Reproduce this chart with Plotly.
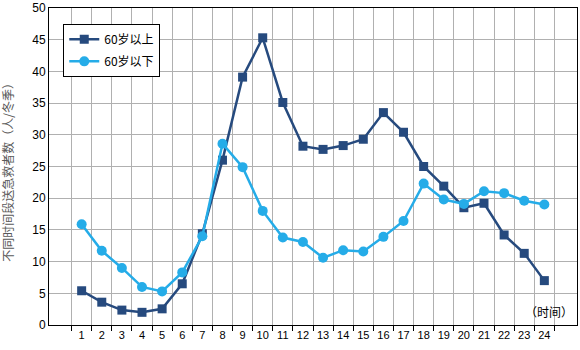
import plotly.graph_objects as go

hours = [str(i) for i in range(1, 25)]
over60 = [5.4, 3.6, 2.35, 2.0, 2.55, 6.5, 14.4, 26.0, 39.1, 45.3, 35.1, 28.2, 27.7, 28.3, 29.3,
          33.5, 30.4, 25.0, 21.9, 18.5, 19.2, 14.2, 11.3, 7.0]
under60 = [15.9, 11.7, 9.0, 6.0, 5.3, 8.3, 14.0, 28.6, 24.9, 18.0, 13.8, 13.1, 10.6, 11.8, 11.6,
           13.9, 16.4, 22.3, 19.8, 19.1, 21.1, 20.8, 19.6, 19.0]
yticks = list(range(0, 51, 5))

dark = "#264a7e"
light = "#25ace8"
cjk = "Noto Sans CJK SC"

fig = go.Figure()
fig.add_trace(go.Scatter(x=hours, y=over60, name="60岁以上", mode="lines+markers",
                         legendgroup="a",
                         line=dict(color=dark, width=2.5),
                         marker=dict(symbol="square", size=9, color=dark)))
fig.add_trace(go.Scatter(x=hours, y=under60, name="60岁以下", mode="lines+markers",
                         legendgroup="b",
                         line=dict(color=light, width=2.5),
                         marker=dict(symbol="circle", size=10, color=light)))

fig.update_layout(
    width=580, height=350,
    margin=dict(l=48.5, r=1.5, t=5, b=25),
    paper_bgcolor="white", plot_bgcolor="white",
    font=dict(family=cjk, size=12, color="#000000"),
    showlegend=True,
    legend=dict(x=0.027, y=0.95, xanchor="left", yanchor="top",
                bgcolor="white", bordercolor="black", borderwidth=1,
                font=dict(family=cjk, size=12, color="#000"),
                traceorder="grouped", tracegroupgap=3,
                itemwidth=30),
    xaxis=dict(type="category", tickson="boundaries", showgrid=True, gridcolor="#b0b0b0",
               gridwidth=1, showline=True, linecolor="black", linewidth=1, mirror=True,
               ticks="outside", ticklen=5, tickcolor="black", tickangle=0,
               tickfont=dict(family="Liberation Sans", size=11, color="#000")),
    yaxis=dict(range=[0, 50], tickvals=yticks, showgrid=True, gridcolor="#b0b0b0", gridwidth=1,
               showline=True, linecolor="black", linewidth=1, mirror=True, ticks="",
               zeroline=False, ticklabeloverflow="allow",
               tickfont=dict(family="Liberation Sans", size=12, color="#000")),
    annotations=[
        dict(text="不同时间段送急救者数（人/冬季）", xref="paper", yref="paper", x=0, y=0.49,
             xanchor="center", yanchor="middle", xshift=-41, textangle=-90, showarrow=False,
             font=dict(family=cjk, size=12, color="#595959")),
        dict(text="（时间）", xref="paper", yref="paper", x=1, y=0.0, xanchor="right",
             yanchor="bottom", xshift=-2, yshift=3, showarrow=False,
             font=dict(family=cjk, size=12, color="#000")),
    ],
)

fig.write_html("out.html")
